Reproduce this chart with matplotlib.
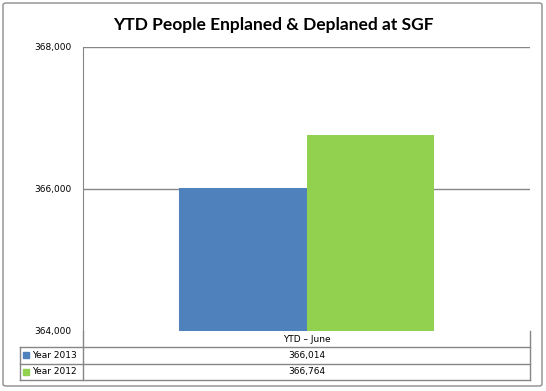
import matplotlib
matplotlib.use("Agg")
import matplotlib.pyplot as plt
from matplotlib.patches import FancyBboxPatch, Rectangle
from matplotlib.lines import Line2D

title = "YTD People Enplaned & Deplaned at SGF"
category = "YTD – June"
series_names = ["Year 2013", "Year 2012"]
series_values = [366014, 366764]
series_colors = ["#4F81BD", "#92D050"]
y_ticks = [364000, 366000, 368000]

W, H = 546, 391
fig = plt.figure(figsize=(W / 100, H / 100), dpi=100)

def fx(x):
    return x / W

def fy(y):
    return 1 - y / H

GRID = "#868686"

# outer chart border
fig.patches.append(FancyBboxPatch((fx(3), fy(386)), fx(539), 383 / H,
                                  boxstyle="round,pad=0,rounding_size=0.005",
                                  transform=fig.transFigure, fill=False,
                                  edgecolor="#8c8c8c", linewidth=1))

left, right, top, bottom = 83, 530, 47, 331
ax = fig.add_axes([fx(left), fy(bottom), fx(right - left), (bottom - top) / H])
ax.patch.set_visible(False)
ax.set_ylim(y_ticks[0], y_ticks[-1])
ax.set_xlim(-0.5, 0.5)
bw = 0.286
offsets = [-bw / 2, bw / 2]
for off, v, c in zip(offsets, series_values, series_colors):
    ax.bar(off, v - y_ticks[0], bottom=y_ticks[0], width=bw, color=c, zorder=3)
ax.set_yticks(y_ticks)
ax.set_yticklabels([f"{t:,}" for t in y_ticks], fontsize=6.5)
ax.tick_params(axis="y", length=0, pad=8.5)
ax.set_xticks([])
for s in ["top", "right", "bottom"]:
    ax.spines[s].set_visible(False)
ax.spines["left"].set_color(GRID)
for t in y_ticks[1:]:
    ax.axhline(t, color=GRID, linewidth=1, zorder=1)

fig.text(fx(273), fy(25), title, ha="center", va="center", fontsize=12.5,
         fontweight="bold", family="Lato")

# category label
fig.text(fx(306.5), fy(339), category, ha="center", va="center", fontsize=6.5)

# data table lines
def hline(y, x0, x1):
    fig.add_artist(Line2D([fx(x0), fx(x1)], [fy(y), fy(y)], color=GRID, lw=1))

def vline(x, y0, y1):
    fig.add_artist(Line2D([fx(x), fx(x)], [fy(y0), fy(y1)], color=GRID, lw=1))

row_lines = [347, 363.5, 380]
for y in row_lines:
    hline(y, 20, 530)
vline(20, 347, 380)
vline(83, 331, 380)
vline(530, 331, 380)

for i, (name, v, c) in enumerate(zip(series_names, series_values, series_colors)):
    yc = (row_lines[i] + row_lines[i + 1]) / 2
    fig.patches.append(Rectangle((fx(23), fy(yc + 3)), fx(6), 6 / H,
                                 transform=fig.transFigure, color=c))
    fig.text(fx(32), fy(yc), name, ha="left", va="center", fontsize=6.5)
    fig.text(fx(306.5), fy(yc), f"{v:,}", ha="center", va="center", fontsize=6.5)

fig.savefig("out.png", dpi=100)
